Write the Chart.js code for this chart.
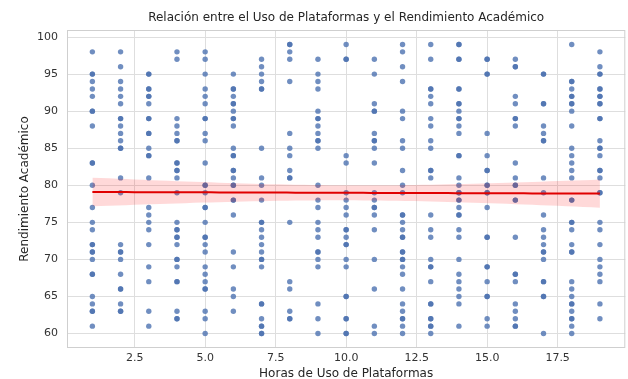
<!DOCTYPE html>
<html><head><meta charset="utf-8">
<script src="https://cdn.jsdelivr.net/npm/chart.js@4/dist/chart.umd.min.js"></script>
<style>html,body{margin:0;padding:0;background:#fff}</style>
</head><body>
<canvas id="c" width="628" height="379" style="display:block;width:628px;height:379px"></canvas>
<script>
const hours = [1,2,3,4,5,6,7,8,9,10,11,12,13,14,15,16,17,18,19];
// scores per hour value (repeated values = overlapping, darker dots)
const scores = [
  [98,95,95,94,93,92,90,90,88,83,83,80,77,75,74,72,72,71,71,70,68,68,65,64,63,63,61],
  [98,96,94,93,92,91,89,89,88,87,86,85,85,81,79,72,71,71,70,68,66,66,64,63,63],
  [95,95,93,93,92,92,91,89,89,87,87,85,84,84,81,77,76,75,74,72,69,67,63,61],
  [98,97,89,88,87,86,86,83,83,82,82,81,79,75,74,74,73,73,72,70,70,69,67,67,63,62,62],
  [98,97,95,93,92,91,89,89,87,86,83,80,80,79,77,77,75,73,73,72,71,69,68,67,66,66,63,62,60],
  [95,93,93,92,91,91,90,89,89,88,85,84,84,82,82,81,80,80,78,78,76,71,69,66,65,63],
  [97,96,95,94,93,93,85,81,80,78,75,75,74,73,72,71,70,70,69,64,64,62,61,61,60,60],
  [99,99,98,97,94,87,85,84,82,81,81,75,67,66,63,62,62],
  [97,95,94,93,90,89,89,88,87,86,86,85,80,78,77,75,74,73,71,71,70,69,64,62,60],
  [99,97,97,84,83,79,78,77,76,74,74,73,72,72,70,69,65,65,62,62,60,60],
  [97,95,91,90,90,87,86,86,85,83,79,78,77,77,76,74,70,66,61,60],
  [99,98,96,94,90,89,86,85,82,80,79,76,76,75,74,73,73,71,71,70,70,69,68,66,64,63,62,62,61,60],
  [99,97,93,93,92,91,89,88,86,85,82,82,81,76,74,73,70,69,69,67,64,64,62,62,61,61,60],
  [99,99,97,97,93,93,91,91,90,89,89,88,87,84,84,81,80,79,79,78,78,77,76,76,74,73,70,68,67,66,65,64,61],
  [97,97,95,95,87,84,82,82,80,80,79,79,77,73,73,69,69,67,65,65,62,61],
  [97,96,96,92,91,89,89,88,83,81,80,80,78,78,73,68,68,67,64,63,62,61,61],
  [95,95,91,91,88,87,86,86,81,79,76,74,73,72,71,71,70,67,67,65,65,60],
  [99,94,94,93,92,92,91,91,90,88,85,84,83,82,81,78,78,75,75,74,72,71,71,67,66,65,64,64,63,62,62,61,60],
  [98,96,95,95,93,93,92,92,91,91,89,89,86,85,85,84,82,82,81,79,79,75,74,72,70,69,68,67,64,62]
];
const xTicks = [2.5,5.0,7.5,10.0,12.5,15.0,17.5];
const yTicks = [60,65,70,75,80,85,90,95,100];
const titleText = 'Relación entre el Uso de Plataformas y el Rendimiento Académico';

// scatter points
const pts = [];
hours.forEach((h,i)=>scores[i].forEach(v=>pts.push({x:h,y:v})));

// least squares fit + 95% CI of the mean
const n = pts.length;
const mx = pts.reduce((a,p)=>a+p.x,0)/n, my = pts.reduce((a,p)=>a+p.y,0)/n;
let sxx=0, sxy=0;
pts.forEach(p=>{sxx+=(p.x-mx)**2; sxy+=(p.x-mx)*(p.y-my);});
const slope = sxy/sxx, icpt = my - slope*mx;
let sse=0; pts.forEach(p=>{sse+=(p.y-(icpt+slope*p.x))**2;});
const s = Math.sqrt(sse/(n-2)), tcrit = 1.966;
const xmin = Math.min(...hours), xmax = Math.max(...hours);
const lineData = [], lo = [], hi = [];
for (let k=0;k<=60;k++){
  const x = xmin + (xmax-xmin)*k/60;
  const yh = icpt + slope*x;
  const se = s*Math.sqrt(1/n + (x-mx)**2/sxx);
  lineData.push({x, y:yh}); lo.push({x, y:yh - tcrit*se}); hi.push({x, y:yh + tcrit*se});
}

const frame = {
  id:'frame',
  beforeDatasetsDraw(chart){
    const {ctx, chartArea:a} = chart;
    ctx.save(); ctx.strokeStyle='#cfcfcf'; ctx.lineWidth=1;
    ctx.strokeRect(a.left+0.5, a.top+0.5, a.right-a.left-1, a.bottom-a.top-1);
    ctx.restore();
  },
  afterDraw(chart){
    const {ctx, chartArea:a} = chart;
    ctx.save(); ctx.fillStyle='#262626'; ctx.font="12px 'DejaVu Sans', sans-serif";
    ctx.textAlign='center'; ctx.textBaseline='middle';
    ctx.fillText(titleText, (a.left+a.right)/2, 18);
    ctx.restore();
  }
};

Chart.defaults.font.family = "'DejaVu Sans', sans-serif";
Chart.defaults.color = '#262626';

new Chart(document.getElementById('c'), {
  type:'scatter',
  data:{datasets:[
    {label:'fit', type:'line', data:lineData, borderColor:'#e00000', borderWidth:2, pointRadius:0, fill:false, order:1},
    {label:'lo', type:'line', data:lo, borderWidth:0, borderColor:'rgba(0,0,0,0)', pointRadius:0, fill:false, order:2},
    {label:'hi', type:'line', data:hi, borderWidth:0, borderColor:'rgba(0,0,0,0)', pointRadius:0, fill:'-1', backgroundColor:'rgba(255,0,0,0.15)', order:2},
    {label:'datos', data:pts, backgroundColor:'rgba(76,114,176,0.8)', borderWidth:0, pointRadius:2.7, pointHoverRadius:2.7, order:3}
  ]},
  options:{
    responsive:false, animation:false, devicePixelRatio:1,
    layout:{padding:{left:0,right:1,top:30,bottom:0}},
    plugins:{ legend:{display:false}, tooltip:{enabled:false}, title:{display:false} },
    scales:{
      x:{type:'linear', min:0.1, max:19.9,
        afterBuildTicks:sc=>{sc.ticks = xTicks.map(v=>({value:v}));},
        afterFit:sc=>{sc.height=31;},
        ticks:{font:{size:11}, color:'#333', padding:4, callback:v=>v.toFixed(1), maxRotation:0},
        grid:{color:'#dedede', drawTicks:false}, border:{display:false},
        title:{display:true, text:'Horas de Uso de Plataformas', font:{size:12}, color:'#262626', padding:{top:0,bottom:-2}}
      },
      y:{type:'linear', min:58.05, max:100.95,
        afterBuildTicks:sc=>{sc.ticks = yTicks.map(v=>({value:v}));},
        afterFit:sc=>{sc.width=67;},
        ticks:{font:{size:11}, color:'#333', padding:9},
        grid:{color:'#dedede', drawTicks:false}, border:{display:false},
        title:{display:true, text:'Rendimiento Académico', font:{size:12}, color:'#262626', padding:{top:18,bottom:0}}
      }
    }
  },
  plugins:[frame]
});
</script>
</body></html>
